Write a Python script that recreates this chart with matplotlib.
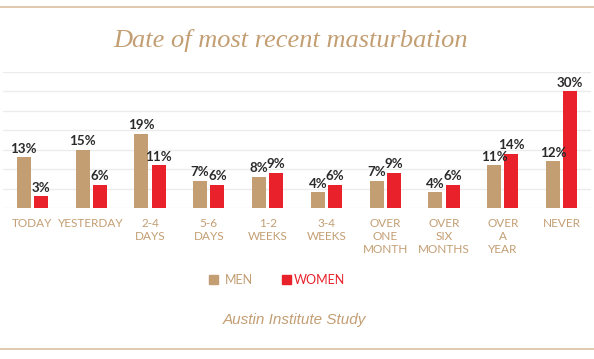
import matplotlib
matplotlib.use("Agg")
import matplotlib.pyplot as plt
import numpy as np
from matplotlib.patches import Rectangle

categories = ["TODAY", "YESTERDAY", "2-4\nDAYS", "5-6\nDAYS", "1-2\nWEEKS", "3-4\nWEEKS",
              "OVER\nONE\nMONTH", "OVER\nSIX\nMONTHS", "OVER\nA\nYEAR", "NEVER"]
men = [13, 15, 19, 7, 8, 4, 7, 4, 11, 12]
women = [3, 6, 11, 6, 9, 6, 9, 6, 14, 30]
series_names = ["MEN", "WOMEN"]

TAN = "#C39E73"
RED = "#E8212B"
DARK = "#2a2a2a"

fig = plt.figure(figsize=(5.94, 3.59), dpi=100)
fig.patch.set_facecolor("white")
ax = fig.add_axes([0.005, (359 - 208) / 359, 0.99, (208 - 72) / 359])

x = np.arange(len(categories))
w = 0.238
gap = 0.055
b1 = ax.bar(x - (w + gap) / 2, men, w, color=TAN, zorder=3)
b2 = ax.bar(x + (w + gap) / 2, women, w, color=RED, zorder=3)

for bars, vals in ((b1, men), (b2, women)):
    for r, v in zip(bars, vals):
        ax.text(r.get_x() + r.get_width() / 2, v + 0.7, f"{v}%", ha="center", va="bottom",
                fontsize=9.6, fontweight="bold", color=DARK, family="Lato")

ax.set_xlim(-0.5, 9.5)
ax.set_ylim(0, 35)
ax.set_yticks(np.arange(0, 36, 5))
ax.yaxis.grid(True, color="#ececec", linewidth=1, zorder=0)
ax.tick_params(left=False, labelleft=False, bottom=False)
for s in ax.spines.values():
    s.set_visible(False)
ax.set_xticks(x)
ax.set_xticklabels(categories, fontsize=8.5, color=TAN, family="Lato", linespacing=1.2)
ax.tick_params(axis="x", pad=4)

fig.text(0.49, 1 - 40 / 359, "Date of most recent masturbation", ha="center", va="center",
         fontsize=19, style="italic", color=TAN, family="Liberation Serif")

# legend
fig.patches.append(Rectangle((209 / 594, 1 - 284 / 359), 9 / 594, 9 / 359, transform=fig.transFigure,
                             color=TAN, figure=fig))
fig.text(225 / 594, 1 - 280 / 359, series_names[0], ha="left", va="center", fontsize=9,
         color=TAN, family="Lato")
fig.patches.append(Rectangle((282 / 594, 1 - 284 / 359), 9 / 594, 9 / 359, transform=fig.transFigure,
                             color=RED, figure=fig))
fig.text(294 / 594, 1 - 280 / 359, series_names[1], ha="left", va="center", fontsize=9,
         color=RED, family="Lato")

fig.text(294 / 594, 1 - 320 / 359, "Austin Institute Study", ha="center", va="center",
         fontsize=11, style="italic", color=TAN, family="Liberation Sans")

fig.add_artist(plt.Line2D([0, 1], [1 - 7 / 359, 1 - 7 / 359], color="#d9bfa0", linewidth=1.2,
                          transform=fig.transFigure))
fig.add_artist(plt.Line2D([0, 1], [1 - 349 / 359, 1 - 349 / 359], color="#d9bfa0", linewidth=1.2,
                          transform=fig.transFigure))

fig.savefig("out.png", dpi=100)
